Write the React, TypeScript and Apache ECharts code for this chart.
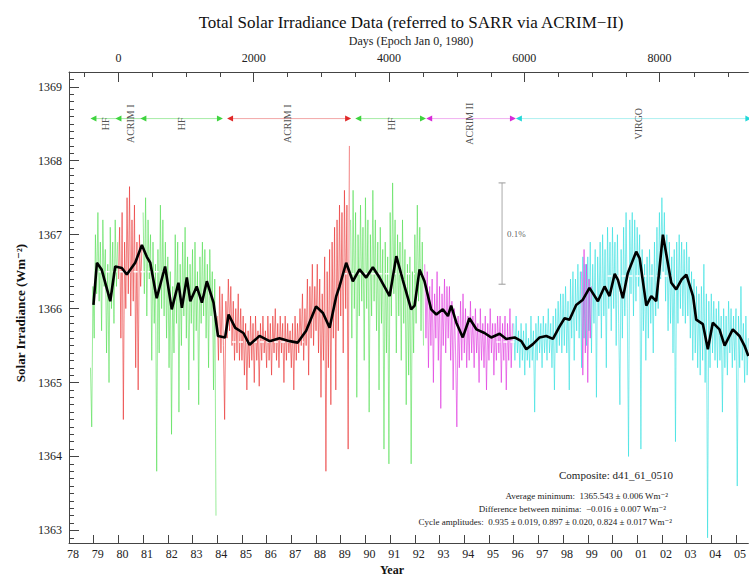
import React, { useEffect, useRef } from "react";
import * as echarts from "echarts";

const FONT = "'Liberation Serif', 'DejaVu Serif', serif";
const STEP = 0.05; // years between plotted samples of the daily record

// Year tick labels (bottom axis) and day tick labels (top axis)
const yearTicks = [1978, 1979, 1980, 1981, 1982, 1983, 1984, 1985, 1986, 1987, 1988, 1989, 1990, 1991, 1992, 1993, 1994, 1995, 1996, 1997, 1998, 1999, 2000, 2001, 2002, 2003, 2004, 2005];
const dayTicks = [0, 2000, 4000, 6000, 8000];
const dayMinorTicks = [-500, 500, 1000, 1500, 2500, 3000, 3500, 4500, 5000, 5500, 6500, 7000, 7500, 8500, 9000];
const irrTicks = [1363, 1364, 1365, 1366, 1367, 1368, 1369];

// Daily-record samples per instrument (W/m^2)
const hf1Start = 1978.87;
const hf1 = [1365.2, 1364.4, 1366.3, 1365.6, 1367.0, 1366.2, 1367.3, 1366.1, 1366.9, 1365.7, 1367.2, 1366.3, 1366.8, 1365.4, 1366.6, 1365.0, 1367.1, 1366.0, 1366.9, 1365.8, 1367.2, 1366.3, 1366.9];

const acrim1aStart = 1980.0;
const acrim1a = [1366.4, 1367.1, 1365.6, 1367.3, 1364.5, 1366.9, 1366.0, 1367.5, 1366.2, 1367.65, 1365.9, 1367.2, 1366.1, 1367.4, 1365.2, 1366.9, 1364.9, 1367.0, 1366.3, 1366.8];

const hf2Start = 1981.0;
const hf2 = [
  1367.3, 1366.2, 1367.5, 1365.9, 1367.2, 1366.4, 1367.0, 1365.3, 1366.9, 1365.8, 1366.6, 1363.8, 1366.8, 1365.4, 1367.4, 1366.0, 1367.2, 1365.9, 1366.9, 1365.6,
  1366.7, 1365.2, 1366.5, 1364.3, 1366.3, 1365.4, 1367.0, 1365.8, 1366.9, 1364.6, 1366.6, 1365.5, 1366.9, 1365.9, 1367.1, 1365.6, 1366.7, 1364.9, 1366.6, 1365.8,
  1366.8, 1365.3, 1366.9, 1365.7, 1366.5, 1364.7, 1366.7, 1365.8, 1366.9, 1365.9, 1366.8, 1365.6, 1366.6, 1365.2, 1366.8, 1365.9, 1366.5, 1364.9, 1366.4, 1363.2,
];

const acrim1bStart = 1984.0;
const acrim1b = [
  1365.9, 1365.3, 1366.3, 1365.4, 1366.2, 1365.5, 1364.5, 1366.1, 1365.6, 1366.4, 1365.7, 1366.3, 1365.5, 1366.1, 1365.3, 1366.0, 1365.4, 1366.2, 1365.3, 1366.0,
  1365.3, 1365.9, 1365.1, 1365.8, 1364.9, 1365.7, 1365.2, 1365.9, 1365.3, 1365.8, 1365.0, 1365.9, 1365.3, 1365.7, 1364.95, 1365.8, 1365.3, 1365.9, 1365.4, 1365.7,
  1365.2, 1365.9, 1365.3, 1365.8, 1365.1, 1365.9, 1365.4, 1366.0, 1365.3, 1365.8, 1365.2, 1365.9, 1365.4, 1365.8, 1365.0, 1365.9, 1365.3, 1365.8, 1365.4, 1365.7,
  1365.2, 1365.8, 1364.9, 1365.9, 1365.3, 1365.8, 1365.4, 1366.0, 1365.5, 1366.2, 1365.3, 1366.0, 1365.5, 1366.4, 1365.1, 1366.3, 1365.6, 1366.6, 1365.5, 1366.3,
  1365.7, 1366.6, 1365.4, 1366.4, 1364.8, 1366.2, 1365.3, 1366.7, 1363.8, 1366.5, 1365.2, 1366.8, 1364.7, 1366.9, 1365.6, 1367.1, 1364.9, 1367.2, 1365.7, 1367.4,
  1365.9, 1367.3, 1365.4, 1367.6, 1366.0, 1367.4, 1364.1, 1368.2,
];

const hf3Start = 1989.4;
const hf3 = [
  1367.2, 1365.6, 1367.6, 1366.0, 1367.3, 1364.8, 1367.0, 1365.9, 1367.4, 1366.1, 1367.1, 1365.3, 1367.5, 1366.0, 1367.2, 1364.6, 1367.0, 1365.9, 1367.6, 1366.1,
  1367.2, 1365.7, 1366.9, 1364.9, 1367.1, 1365.8, 1366.8, 1364.1, 1366.9, 1365.4, 1366.7, 1363.9, 1367.3, 1365.9, 1367.7, 1366.2, 1367.2, 1365.4, 1367.0, 1365.9,
  1366.9, 1365.3, 1367.2, 1365.8, 1366.8, 1364.7, 1366.6, 1365.1, 1366.7, 1363.9, 1366.5, 1365.4, 1367.0, 1365.8, 1367.4, 1366.1, 1367.1, 1365.7, 1366.9, 1365.5,
];

const acrim2Start = 1992.4;
const acrim2 = [
  1366.6, 1365.6, 1366.5, 1365.2, 1366.3, 1365.5, 1366.4, 1365.0, 1366.2, 1365.6, 1366.5, 1365.3, 1366.3, 1364.65, 1366.2, 1365.5, 1366.4, 1365.4, 1366.3, 1365.6,
  1366.3, 1365.3, 1366.1, 1364.9, 1366.0, 1365.4, 1364.4, 1365.9, 1365.2, 1366.1, 1365.3, 1366.2, 1365.4, 1366.0, 1365.2, 1365.9, 1365.3, 1366.1, 1365.4, 1365.9,
  1365.2, 1366.0, 1365.4, 1365.8, 1365.0, 1366.0, 1365.3, 1365.8, 1365.2, 1365.9, 1364.9, 1365.8, 1365.3, 1366.0, 1365.4, 1365.8, 1365.1, 1365.8, 1365.3, 1365.9,
  1365.4, 1365.9, 1365.0, 1365.8, 1365.3, 1365.9, 1364.9, 1365.8, 1365.3, 1366.0, 1365.2, 1365.8,
];

const acrim2gapStart = 1998.75;
const acrim2gap = [1366.5, 1365.1, 1366.8, 1365.4, 1366.6, 1365.0, 1366.4, 1365.6, 1366.3];

const virgoStart = 1996.0;
const virgo = [
  1365.8, 1365.3, 1365.9, 1365.4, 1365.7, 1365.2, 1365.8, 1365.3, 1365.7, 1365.1, 1365.8, 1365.3, 1365.6, 1365.2, 1365.9, 1365.3, 1365.7, 1364.6, 1365.8, 1365.3,
  1365.9, 1365.4, 1365.8, 1365.2, 1365.9, 1365.4, 1365.8, 1365.3, 1366.0, 1365.4, 1365.8, 1365.2, 1365.9, 1364.9, 1366.0, 1365.4, 1366.1, 1365.5, 1366.2, 1365.4,
  1366.2, 1365.5, 1366.3, 1365.4, 1366.1, 1364.9, 1366.4, 1365.6, 1366.5, 1365.3, 1366.4, 1365.7, 1366.6, 1365.6, 1366.5, 1365.2, 1366.7, 1365.6, 1366.6, 1365.5,
  1366.7, 1365.7, 1366.9, 1365.4, 1366.6, 1365.8, 1366.8, 1364.8, 1366.7, 1365.9, 1366.9, 1365.6, 1367.0, 1365.9, 1366.8, 1365.2, 1367.1, 1366.0, 1366.9, 1365.7,
  1367.1, 1366.0, 1366.9, 1365.5, 1367.0, 1365.8, 1364.7, 1366.8, 1365.6, 1367.1, 1365.9, 1367.3, 1366.0, 1364.0, 1367.2, 1366.2, 1367.3, 1365.9, 1367.2, 1366.1,
  1367.1, 1366.3, 1367.0, 1364.1, 1366.8, 1365.7, 1366.6, 1365.3, 1366.7, 1365.6, 1366.8, 1365.8, 1366.6, 1365.4, 1366.9, 1365.9, 1367.1, 1366.0, 1367.3, 1366.4,
  1367.5, 1366.5, 1367.3, 1366.1, 1367.0, 1365.7, 1366.9, 1365.8, 1366.7, 1365.4, 1366.8, 1364.2, 1366.9, 1365.8, 1367.0, 1366.0, 1366.9, 1365.9, 1366.8, 1365.8,
  1366.9, 1365.9, 1366.7, 1365.6, 1366.5, 1365.3, 1366.4, 1365.4, 1366.3, 1365.2, 1366.2, 1365.1, 1366.3, 1365.3, 1366.6, 1365.0, 1366.2, 1362.9, 1366.1, 1365.2,
  1366.2, 1365.4, 1366.1, 1365.3, 1366.0, 1365.2, 1366.1, 1365.3, 1365.9, 1364.6, 1366.0, 1365.2, 1365.9, 1365.1, 1366.1, 1365.4, 1366.0, 1365.2, 1365.9, 1365.3,
  1366.0, 1363.6, 1365.9, 1365.2, 1366.3, 1365.3, 1365.8, 1365.0, 1365.9, 1365.1, 1365.6,
];

// 81-day smoothed composite [year, W/m^2]
const smoothed: [number, number][] = [
  [1978.99, 1366.05], [1979.13, 1366.62], [1979.32, 1366.53], [1979.67, 1366.1], [1979.87, 1366.57],
  [1980.14, 1366.55], [1980.34, 1366.46], [1980.68, 1366.62], [1980.95, 1366.86], [1981.15, 1366.7],
  [1981.29, 1366.62], [1981.55, 1366.14], [1981.89, 1366.57], [1982.16, 1365.99], [1982.43, 1366.35],
  [1982.57, 1366.01], [1982.77, 1366.42], [1982.91, 1366.1], [1983.17, 1366.3], [1983.38, 1366.08],
  [1983.58, 1366.37], [1983.85, 1366.08], [1984.03, 1365.63], [1984.32, 1365.61], [1984.46, 1365.92],
  [1984.73, 1365.74], [1985.06, 1365.67], [1985.31, 1365.51], [1985.71, 1365.63], [1986.12, 1365.56],
  [1986.52, 1365.6], [1986.93, 1365.56], [1987.26, 1365.54], [1987.6, 1365.7], [1988.0, 1366.03],
  [1988.28, 1365.94], [1988.55, 1365.74], [1988.82, 1366.17], [1988.95, 1366.3], [1989.22, 1366.62],
  [1989.49, 1366.37], [1989.76, 1366.53], [1990.03, 1366.42], [1990.3, 1366.56], [1990.57, 1366.42],
  [1990.98, 1366.17], [1991.25, 1366.71], [1991.51, 1366.39], [1991.85, 1365.99], [1991.99, 1366.04],
  [1992.19, 1366.53], [1992.39, 1366.37], [1992.66, 1365.99], [1992.87, 1365.92], [1993.13, 1365.99],
  [1993.34, 1365.9], [1993.47, 1366.04], [1993.68, 1365.81], [1993.94, 1365.61], [1994.21, 1365.87],
  [1994.49, 1365.72], [1994.82, 1365.67], [1995.09, 1365.61], [1995.43, 1365.66], [1995.7, 1365.59],
  [1996.04, 1365.61], [1996.31, 1365.56], [1996.51, 1365.45], [1996.78, 1365.52], [1997.05, 1365.61],
  [1997.32, 1365.63], [1997.59, 1365.59], [1997.86, 1365.76], [1998.06, 1365.87], [1998.26, 1365.85],
  [1998.53, 1366.05], [1998.8, 1366.12], [1999.07, 1366.28], [1999.41, 1366.1], [1999.68, 1366.3],
  [1999.88, 1366.17], [2000.09, 1366.47], [2000.22, 1366.39], [2000.42, 1366.14], [2000.62, 1366.48],
  [2000.96, 1366.77], [2001.1, 1366.68], [2001.37, 1366.04], [2001.57, 1366.17], [2001.77, 1366.1],
  [2002.04, 1367.0], [2002.38, 1366.35], [2002.58, 1366.26], [2002.79, 1366.39], [2002.99, 1366.46],
  [2003.26, 1366.17], [2003.39, 1365.85], [2003.66, 1365.79], [2003.86, 1365.45], [2004.06, 1365.81],
  [2004.33, 1365.72], [2004.54, 1365.5], [2004.87, 1365.72], [2005.14, 1365.63], [2005.34, 1365.5],
  [2005.5, 1365.36],
];

// Average levels at minima / maxima: [fromYear, toYear, level]
const levelFrom = [1979.2, 1984.6, 1989.1, 1995.3, 1999.8];
const levelTo = [1981.9, 1987.5, 1992.0, 1996.1, 2002.4];
const levelValue = [1366.5, 1365.55, 1366.47, 1365.55, 1366.44];

// Instrument timeline (top row)
const rowLevel = 1368.57;
const labelLevel = 1368.5;
const instrSpans = [
  { name: "HF", ticks: [1978.99, 1980.0, 1981.01, 1984.11], color: "#3fd43f", line: "#a6eca6" },
  { name: "ACRIM I", ticks: [1984.52, 1989.3], color: "#e02828", line: "#f2a8a8" },
  { name: "HF", ticks: [1989.71, 1992.33], color: "#3fd43f", line: "#a6eca6" },
  { name: "ACRIM II", ticks: [1992.58, 1995.97], color: "#d82ad8", line: "#f0b0f0" },
  { name: "VIRGO", ticks: [1996.21, 2005.5], color: "#22d8d8", line: "#aef0f0" },
];
const instrLabelNames = ["HF", "ACRIM I", "HF", "ACRIM I", "HF", "ACRIM II", "VIRGO"];
const instrLabelYears = [1979.46, 1980.47, 1982.55, 1986.84, 1991.04, 1994.2, 2001.07];

// 0.1 % scale bar
const barYear = 1995.53;
const barLow = 1366.33;
const barHigh = 1367.7;

const GREEN = "rgba(70,220,70,0.55)";
const RED = "rgba(232,40,40,0.58)";
const MAGENTA = "rgba(220,40,220,0.58)";
const CYAN = "rgba(40,222,222,0.58)";

function toSeriesData(start: number, values: number[]) {
  return values.map((v, i) => [Math.round((start + i * STEP) * 1000) / 1000, v]);
}

export default function App() {
  const ref = useRef<HTMLDivElement>(null);

  useEffect(() => {
    if (!ref.current) return;
    const chart = echarts.init(ref.current, undefined, { renderer: "svg" });

    const dayMin = (1978 - 1980) * 365.25;
    const dayMax = (2005.5 - 1980) * 365.25;
    const yMin = 1362.83;
    const yMax = 1369.2;

    const minorIrr: number[] = [];
    for (let k = 0; k < 64; k++) {
      const v = Math.round((1362.9 + k * 0.1) * 10) / 10;
      if (Math.abs(v - Math.round(v)) > 0.01 && v < yMax) minorIrr.push(v);
    }

    const noise = (name: string, start: number, values: number[], color: string) => ({
      name,
      type: "line",
      xAxisIndex: 0,
      yAxisIndex: 0,
      data: toSeriesData(start, values),
      showSymbol: false,
      symbol: "none",
      lineStyle: { color, width: 1 },
      z: 2,
      silent: true,
    });

    const series: any[] = [
      noise("HF", hf1Start, hf1, GREEN),
      noise("ACRIM I", acrim1aStart, acrim1a, RED),
      noise("HF", hf2Start, hf2, GREEN),
      noise("ACRIM I", acrim1bStart, acrim1b, RED),
      noise("HF", hf3Start, hf3, GREEN),
      noise("ACRIM II", acrim2Start, acrim2, MAGENTA),
      noise("VIRGO", virgoStart, virgo, CYAN),
      noise("ACRIM II", acrim2gapStart, acrim2gap, MAGENTA),
    ];

    levelFrom.forEach((f, i) => {
      series.push({
        type: "line",
        data: [[f, levelValue[i]], [levelTo[i], levelValue[i]]],
        symbol: "none",
        lineStyle: { color: "#ffffff", width: 1.5, type: [4, 3] },
        z: 3,
        silent: true,
      });
    });

    series.push({
      name: "Composite",
      type: "line",
      data: smoothed,
      symbol: "none",
      lineStyle: { color: "#000000", width: 2.6 },
      z: 4,
      silent: true,
    });

    instrSpans.forEach((s) => {
      series.push({
        type: "line",
        data: s.ticks.map((t, i) => ({
          value: [t, rowLevel],
          symbolRotate: i === s.ticks.length - 1 ? -90 : 90,
        })),
        symbol: "triangle",
        symbolSize: 6,
        itemStyle: { color: s.color },
        lineStyle: { color: s.line, width: 1 },
        z: 5,
        silent: true,
      });
    });

    series.push({
      type: "scatter",
      data: instrLabelYears.map((y, i) => ({ value: [y, labelLevel], name: instrLabelNames[i] })),
      symbolSize: 0,
      label: {
        show: true,
        formatter: "{b}",
        rotate: 90,
        position: "inside",
        fontFamily: FONT,
        fontSize: 10,
        color: "#222",
      },
      z: 6,
      silent: true,
    });

    series.push({
      type: "line",
      data: [[barYear, barLow], [barYear, barHigh]],
      symbol: "rect",
      symbolSize: [7, 1],
      itemStyle: { color: "#999" },
      lineStyle: { color: "#aaa", width: 1 },
      z: 5,
      silent: true,
    });
    series.push({
      type: "scatter",
      data: [{ value: [barYear, (barLow + barHigh) / 2], name: "0.1%" }],
      symbolSize: 0,
      label: {
        show: true,
        formatter: "{b}",
        position: "right",
        distance: 5,
        fontFamily: FONT,
        fontSize: 9,
        color: "#333",
      },
      silent: true,
    });

    const axisColor = "#444";
    const plain = (v: number) => String(v);

    const option: any = {
      animation: false,
      backgroundColor: "#ffffff",
      grid: [
        { left: 69, right: 0, top: 72, bottom: 35, containLabel: false },
        { left: 69, right: 0, top: 72, bottom: 35, containLabel: false },
      ],
      xAxis: [
        {
          gridIndex: 0,
          type: "value",
          position: "bottom",
          min: 1978,
          max: 2005.5,
          axisLine: { show: true, onZero: false, lineStyle: { color: axisColor, width: 1 } },
          axisTick: { show: true, customValues: yearTicks, inside: true, length: 8, lineStyle: { color: axisColor } },
          axisLabel: {
            show: true,
            customValues: yearTicks,
            formatter: (v: number) => String(Math.round(v) % 100).padStart(2, "0"),
            fontFamily: FONT,
            fontSize: 12,
            color: "#222",
            margin: 5,
            padding: [0, 0, 0, 8],
          },
          splitLine: { show: false },
        },
        {
          gridIndex: 0,
          type: "value",
          position: "top",
          min: dayMin,
          max: dayMax,
          axisLine: { show: true, onZero: false, lineStyle: { color: axisColor, width: 1 } },
          axisTick: { show: true, customValues: dayTicks, inside: true, length: 10, lineStyle: { color: axisColor } },
          axisLabel: {
            show: true,
            customValues: dayTicks,
            formatter: plain,
            fontFamily: FONT,
            fontSize: 12,
            color: "#222",
            margin: 8,
          },
          splitLine: { show: false },
        },
        {
          gridIndex: 1,
          type: "value",
          position: "top",
          min: dayMin,
          max: dayMax,
          axisLine: { show: false, onZero: false },
          axisTick: { show: true, customValues: dayMinorTicks, inside: true, length: 5, lineStyle: { color: axisColor } },
          axisLabel: { show: false },
          splitLine: { show: false },
        },
      ],
      yAxis: [
        {
          gridIndex: 0,
          type: "value",
          position: "left",
          min: yMin,
          max: yMax,
          axisLine: { show: true, onZero: false, lineStyle: { color: axisColor, width: 1 } },
          axisTick: { show: true, customValues: irrTicks, inside: true, length: 10, lineStyle: { color: axisColor } },
          axisLabel: {
            show: true,
            customValues: irrTicks,
            formatter: plain,
            fontFamily: FONT,
            fontSize: 12,
            color: "#222",
            margin: 7,
          },
          splitLine: { show: false },
        },
        {
          gridIndex: 1,
          type: "value",
          position: "left",
          min: yMin,
          max: yMax,
          axisLine: { show: false, onZero: false },
          axisTick: { show: true, customValues: minorIrr, inside: true, length: 5, lineStyle: { color: axisColor } },
          axisLabel: { show: false },
          splitLine: { show: false },
        },
      ],
      series,
      graphic: [
        {
          type: "text",
          x: 411,
          y: 22,
          style: {
            text: "Total Solar Irradiance Data (referred to SARR via ACRIM\u2212II)",
            fontFamily: FONT,
            fontSize: 17,
            fill: "#111",
            align: "center",
            verticalAlign: "middle",
          },
        },
        {
          type: "text",
          x: 411,
          y: 41,
          style: {
            text: "Days (Epoch Jan 0, 1980)",
            fontFamily: FONT,
            fontSize: 12,
            fill: "#222",
            align: "center",
            verticalAlign: "middle",
          },
        },
        {
          type: "text",
          x: 20,
          y: 313,
          rotation: Math.PI / 2,
          style: {
            text: "Solar Irradiance (Wm\u207B\u00B2)",
            fontFamily: FONT,
            fontSize: 13,
            fontWeight: "bold",
            fill: "#111",
            align: "center",
            verticalAlign: "middle",
          },
        },
        {
          type: "text",
          x: 392,
          y: 570,
          style: {
            text: "Year",
            fontFamily: FONT,
            fontSize: 12,
            fontWeight: "bold",
            fill: "#111",
            align: "center",
            verticalAlign: "middle",
          },
        },
        {
          type: "text",
          x: 673,
          y: 475,
          style: {
            text: "Composite: d41_61_0510",
            fontFamily: FONT,
            fontSize: 11,
            fill: "#222",
            align: "right",
            verticalAlign: "middle",
          },
        },
        {
          type: "text",
          x: 668,
          y: 496,
          style: {
            text: "Average minimum:  1365.543 \u00B1 0.006 Wm\u207B\u00B2",
            fontFamily: FONT,
            fontSize: 9,
            fill: "#222",
            align: "right",
            verticalAlign: "middle",
          },
        },
        {
          type: "text",
          x: 666,
          y: 509,
          style: {
            text: "Difference between minima:  \u22120.016 \u00B1 0.007 Wm\u207B\u00B2",
            fontFamily: FONT,
            fontSize: 9,
            fill: "#222",
            align: "right",
            verticalAlign: "middle",
          },
        },
        {
          type: "text",
          x: 672,
          y: 522,
          style: {
            text: "Cycle amplitudes:  0.935 \u00B1 0.019, 0.897 \u00B1 0.020, 0.824 \u00B1 0.017 Wm\u207B\u00B2",
            fontFamily: FONT,
            fontSize: 9,
            fill: "#222",
            align: "right",
            verticalAlign: "middle",
          },
        },
      ],
    };

    chart.setOption(option);
    return () => chart.dispose();
  }, []);

  return (
    <div
      ref={ref}
      style={{ position: "absolute", left: 0, top: 0, width: 749, height: 578, background: "#fff" }}
    />
  );
}
